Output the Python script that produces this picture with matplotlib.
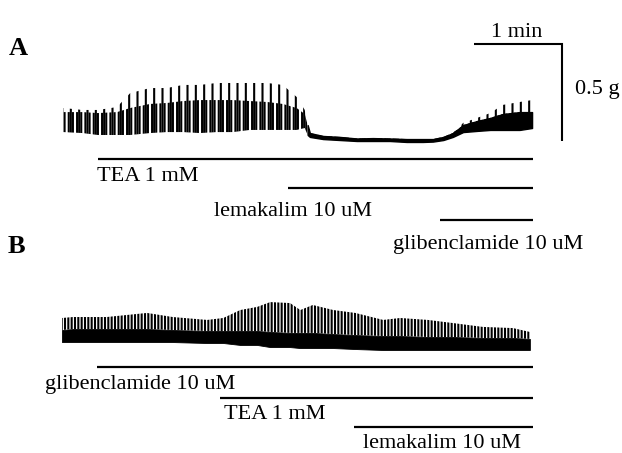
import numpy as np
import matplotlib
matplotlib.use("Agg")
import matplotlib.pyplot as plt
from matplotlib.transforms import blended_transform_factory

plt.rcParams['font.family'] = ['Liberation Serif', 'DejaVu Serif']
plt.rcParams['hatch.linewidth'] = 1.5
plt.rcParams['hatch.color'] = 'black'

# ---------------- data (time in s, force in g) ----------------
# Panel A: envelope of the isometric tension trace
a_time = np.array([1, 14, 24.5, 37.5, 46.5, 60, 71.5, 82.5, 94, 105.5,
                   116.5, 128, 140, 150.5, 160, 165.5, 167.5, 169, 178, 189.5,
                   201, 212, 223.5, 235, 246, 253, 260, 266.5, 273.5, 283,
                   292, 300.5, 312, 320.5])
a_upper = np.array([0.170, 0.160, 0.160, 0.175, 0.247, 0.273, 0.273, 0.289, 0.289, 0.299,
                    0.299, 0.299, 0.299, 0.289, 0.227, 0.160, 0.082, 0.041, 0.026, 0.021,
                    0.013, 0.015, 0.013, 0.010, 0.010, 0.010, 0.021, 0.041, 0.093, 0.119,
                    0.144, 0.186, 0.201, 0.211])
a_dense = np.array([0.149, 0.149, 0.144, 0.149, 0.170, 0.191, 0.196, 0.206, 0.211, 0.211,
                    0.211, 0.206, 0.201, 0.191, 0.170, 0.139, 0.082, 0.041, 0.026, 0.021,
                    0.013, 0.015, 0.013, 0.010, 0.010, 0.010, 0.021, 0.041, 0.082, 0.103,
                    0.119, 0.139, 0.149, 0.149])
a_lower = np.array([0.046, 0.041, 0.031, 0.031, 0.031, 0.041, 0.046, 0.046, 0.041, 0.046,
                    0.046, 0.057, 0.057, 0.057, 0.057, 0.067, 0.031, 0.021, 0.010, 0.005,
                    0.000, 0.000, 0.000, -0.005, -0.005, -0.003, 0.005, 0.021, 0.046, 0.052,
                    0.057, 0.057, 0.057, 0.067])
a_contraction_end = 166.0   # s, phasic contractions abolished

# Panel B
b_time = np.array([0, 7.5, 30.5, 58, 75.5, 99, 110, 121.5, 133, 142,
                   155.5, 162.5, 171, 185, 200, 219, 230.5, 249.5, 266.5, 287,
                   307.5, 319])
b_upper = np.array([0.165, 0.170, 0.170, 0.191, 0.170, 0.155, 0.165, 0.206, 0.222, 0.247,
                    0.242, 0.206, 0.232, 0.206, 0.191, 0.155, 0.165, 0.155, 0.139, 0.119,
                    0.113, 0.093])
b_body = np.array([0.103, 0.108, 0.108, 0.108, 0.103, 0.098, 0.098, 0.098, 0.098, 0.093,
                   0.088, 0.088, 0.088, 0.082, 0.077, 0.072, 0.072, 0.067, 0.067, 0.062,
                   0.062, 0.057])
b_lower = np.array([0.041, 0.041, 0.041, 0.041, 0.041, 0.036, 0.036, 0.026, 0.026, 0.015,
                    0.015, 0.010, 0.010, 0.010, 0.005, 0.000, 0.000, 0.000, 0.000, 0.000,
                    0.000, 0.000])

# Drug applications (start / end, s)
a_drugs = ['TEA 1 mM', 'lemakalim 10 uM', 'glibenclamide 10 uM']
a_drug_start = [24.5, 154.0, 258.0]
a_drug_end = [321.0, 321.0, 321.0]
b_drugs = ['glibenclamide 10 uM', 'TEA 1 mM', 'lemakalim 10 uM']
b_drug_start = [23.9, 107.7, 199.0]
b_drug_end = [321.0, 321.0, 321.0]

# Calibration bars
scale_time = 60.0    # s
scale_force = 0.5    # g
scale_labels = ['1 min', '0.5 g']
panel_labels = ['A', 'B']

# ---------------- layout ----------------
W, H = 622, 453
px_per_s = 88 / 60.0
px_per_g = 194.0
x0_px = 62
baseA_px, baseB_px = 141, 350
xlim = (-x0_px / px_per_s, (W - x0_px) / px_per_s)

fig = plt.figure(figsize=(W / 100, H / 100), dpi=100)
lay = fig.add_axes([0, 0, 1, 1])
lay.set_xlim(0, W)
lay.set_ylim(H, 0)
lay.axis('off')

axA = fig.add_axes([0, 0, 1, 1])
axA.set_xlim(*xlim)
axA.set_ylim((baseA_px - H) / px_per_g, baseA_px / px_per_g)
axA.axis('off')

axB = fig.add_axes([0, 0, 1, 1])
axB.set_xlim(*xlim)
axB.set_ylim((baseB_px - H) / px_per_g, baseB_px / px_per_g)
axB.axis('off')

# ---- trace A ----
axA.fill_between(a_time, a_lower, a_upper, facecolor='none', edgecolor='black',
                 hatch='||', linewidth=0)
axA.fill_between(a_time, a_lower, a_dense, facecolor='none', edgecolor='black',
                 hatch='||||', linewidth=0)
quiet = a_time >= a_contraction_end
axA.fill_between(a_time, a_lower, a_dense, where=quiet, facecolor='black',
                 edgecolor='black', linewidth=1.0)

# ---- trace B ----
axB.fill_between(b_time, b_body, b_upper, facecolor='none', edgecolor='black',
                 hatch='|||||', linewidth=0)
axB.fill_between(b_time, b_lower, b_body, facecolor='black', edgecolor='black',
                 linewidth=0.6)

# ---- calibration bars ----
sb_t = 281.0
axA.plot([sb_t, sb_t + scale_time, sb_t + scale_time],
         [scale_force, scale_force, 0], color='black', lw=1.5,
         solid_joinstyle='miter', solid_capstyle='butt')

fs = 16
lay.text(517, 37, scale_labels[0], ha='center', va='baseline', fontsize=fs)
lay.text(575, 94, scale_labels[1], ha='left', va='baseline', fontsize=fs)

# ---- drug bars ----
trA = blended_transform_factory(axA.transData, lay.transData)
trB = blended_transform_factory(axB.transData, lay.transData)
a_rows = [158.5, 188.0, 220.0]
b_rows = [366.5, 398.0, 427.0]
for s, e, y in zip(a_drug_start, a_drug_end, a_rows):
    axA.plot([s, e], [y, y], transform=trA, color='black', lw=1.6,
             solid_capstyle='butt')
for s, e, y in zip(b_drug_start, b_drug_end, b_rows):
    axB.plot([s, e], [y, y], transform=trB, color='black', lw=1.6,
             solid_capstyle='butt')

a_label_pos = [(148, 181), (293, 216), (488, 249)]
b_label_pos = [(140, 389), (275, 419), (442, 448)]
for txt, (x, y) in zip(a_drugs, a_label_pos):
    lay.text(x, y, txt, ha='center', va='baseline', fontsize=fs)
for txt, (x, y) in zip(b_drugs, b_label_pos):
    lay.text(x, y, txt, ha='center', va='baseline', fontsize=fs)

# ---- panel letters ----
lay.text(9, 55, panel_labels[0], ha='left', va='baseline', fontsize=19, fontweight='bold')
lay.text(8, 253, panel_labels[1], ha='left', va='baseline', fontsize=19, fontweight='bold')

fig.savefig('out.png', dpi=100)
